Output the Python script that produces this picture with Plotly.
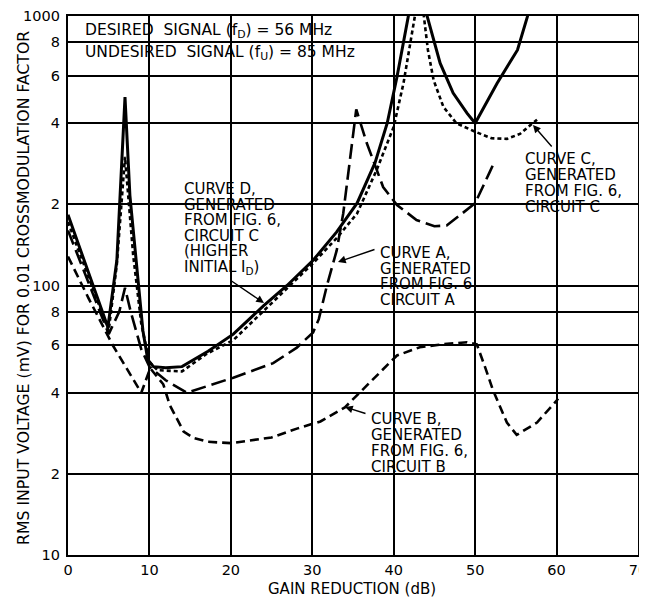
import plotly.graph_objects as go

# ---------------- data ----------------
gain_ticks = [0, 10, 20, 30, 40, 50, 60, 70]
volt_ticks = [10, 20, 40, 60, 80, 100, 200, 400, 600, 800, 1000]
volt_tick_labels = ["10", "2", "4", "6", "8", "100", "2", "4", "6", "8", "1000"]

# Curve D (solid) - Fig. 6 circuit C, higher initial I_D
curve_d_x = [0, 2.5, 4.9, 6.0, 6.4, 7.0, 7.6, 8.4, 9.2, 9.8, 10.5, 12, 14, 17.2, 20.3, 24,
             26.9, 30.1, 33, 35.5, 37.7, 39.2, 40.4, 41.8, 42.9, 44.1, 45.7, 47.3, 49, 50,
             52.7, 55.2, 56.4, 57.3]
curve_d_y = [183, 112, 70, 124, 216, 500, 216, 124, 68, 53, 50, 49.5, 50, 57, 66, 84,
             100, 124, 158, 202, 285, 400, 594, 1000, 2500, 1000, 668, 518, 436, 400,
             563, 748, 990, 1300]

# Curve C (short dash) - Fig. 6 circuit C
curve_c_x = [0, 2.5, 5.0, 6.0, 7.0, 8.0, 9.0, 10.0, 11, 14, 17, 20.3, 26.9, 30.1, 33, 35.5,
             37.9, 40, 41.2, 42.6, 43.2, 43.7, 44.2, 44.9, 46.1, 47.7, 50, 52, 53.9, 55.5,
             56.8, 57.6]
curve_c_y = [172, 108, 68, 120, 300, 130, 72, 52, 48.5, 48, 55.7, 62.7, 98, 121, 150, 185,
             268, 388, 563, 1000, 1800, 1000, 748, 578, 460, 400, 372, 352, 350, 365,
             394, 412]

# Curve A (long dash) - Fig. 6 circuit A
curve_a_x = [0, 2.5, 5.0, 6.3, 7.0, 7.7, 9.0, 10.0, 12, 14.6, 20.3, 25.2, 28.1, 30.1, 30.8,
             31.8, 33, 33.8, 34.7, 35.4, 36.7, 38.7, 40.4, 42.8, 45, 46.5, 48.2, 50, 51.8,
             52.3]
curve_a_y = [160, 103, 66, 80, 98, 80, 58, 50, 44.5, 40, 45.5, 51.5, 58.8, 67, 75,
             100, 135, 185, 300, 450, 337, 232, 199, 175, 166, 167, 183, 202, 264,
             285]

# Curve B (medium dash) - Fig. 6 circuit B
curve_b_x = [0, 2.5, 5.5, 9.0, 10.1, 11.7, 12.5, 14.2, 15.4, 17.2, 20, 25, 28.2, 31, 34,
             37, 40.4, 43.2, 46, 49, 50.2, 51.2, 52.2, 53.9, 55.1, 57.6, 60.2]
curve_b_y = [128, 90, 60, 40, 49.3, 43, 36, 28.7, 27.2, 26.3, 26, 27.3, 29.5, 31.3, 35.3,
             43.5, 55, 59, 60.5, 61.6, 60.5, 50, 40.8, 31, 27.9, 31, 38]

# ---------------- layout helpers (page pixel -> paper) ----------------
PAGE_OFF = 8                      # default body margin of the html page
W, H = 647, 597 - PAGE_OFF
PL, PT, PR, PB = 68, 16, 638, 555  # plot area in page pixels
L, T = PL - PAGE_OFF, PT - PAGE_OFF
R, B = W - (PR - PAGE_OFF), H - (PB - PAGE_OFF)


def xp(px):
    return (px - PL) / (PR - PL)


def yp(py):
    return (PB - py) / (PB - PT)


FONT = "DejaVu Sans"
FS = 15

fig = go.Figure()

styles = [
    (curve_d_x, curve_d_y, "solid", 3.0),
    (curve_c_x, curve_c_y, "4px,3px", 2.6),
    (curve_a_x, curve_a_y, "15px,6px", 2.6),
    (curve_b_x, curve_b_y, "9px,5px", 2.6),
]
for xs, ys, dash, w in styles:
    fig.add_trace(go.Scatter(x=xs, y=ys, mode="lines",
                             line=dict(color="black", width=w, dash=dash),
                             showlegend=False, hoverinfo="skip"))

# white masks behind the labels (hide grid lines, not curves)
masks = [(82, 16, 357, 69), (165, 172, 300, 281), (363, 237, 493, 309),
         (513, 133, 634, 217), (362, 408, 462, 472)]
shapes = []
for x0, y0, x1, y1 in masks:
    shapes.append(dict(type="rect", xref="paper", yref="paper",
                       x0=xp(x0), x1=xp(x1), y0=yp(y1), y1=yp(y0),
                       fillcolor="white", line=dict(width=0), layer="between"))

ann = []


def text(px, py, s, size=FS):
    ann.append(dict(x=xp(px), y=yp(py), xref="paper", yref="paper", text=s,
                    showarrow=False, xanchor="left", yanchor="middle",
                    font=dict(family=FONT, size=size, color="black")))


text(83, 31, "DESIRED  SIGNAL (f<sub>D</sub>) = 56 MHz", 15.5)
text(83, 53, "UNDESIRED  SIGNAL (f<sub>U</sub>) = 85 MHz", 15.5)

for i, s in enumerate(["CURVE D,", "GENERATED", "FROM FIG. 6,", "CIRCUIT C", "(HIGHER",
                       "INITIAL I<sub>D</sub>)"]):
    text(182, 189 + 15.6 * i, s)
for i, s in enumerate(["CURVE A,", "GENERATED", "FROM FIG. 6", "CIRCUIT A"]):
    text(378, 253 + 15.6 * i, s)
for i, s in enumerate(["CURVE C,", "GENERATED", "FROM FIG. 6,", "CIRCUIT C"]):
    text(523, 159 + 16 * i, s)
for i, s in enumerate(["CURVE B,", "GENERATED", "FROM FIG. 6,", "CIRCUIT B"]):
    text(369, 419 + 16 * i, s)


def arrow(hx, hy, tx, ty):
    ann.append(dict(x=xp(hx), y=yp(hy), xref="paper", yref="paper", text="",
                    showarrow=True, ax=tx - hx, ay=ty - hy, arrowhead=2,
                    arrowsize=1.1, arrowwidth=1.4, arrowcolor="black", standoff=0))


arrow(264, 303, 230, 280)
arrow(338, 262, 376, 249)
arrow(533, 125, 553, 148)
arrow(345, 407, 367, 414)

# axis titles
ann.append(dict(x=xp(352), y=yp(589), xref="paper", yref="paper",
                xanchor="center", yanchor="middle",
                text="GAIN REDUCTION (dB)", showarrow=False,
                font=dict(family=FONT, size=FS, color="black")))
ann.append(dict(x=xp(23), y=yp(288), xref="paper", yref="paper", textangle=-90,
                xanchor="center", yanchor="middle",
                text="RMS INPUT VOLTAGE (mV) FOR 0.01 CROSSMODULATION FACTOR",
                showarrow=False, font=dict(family=FONT, size=15.7, color="black")))

fig.update_layout(
    width=W, height=H,
    margin=dict(l=L, r=R, t=T, b=B, autoexpand=False),
    paper_bgcolor="white", plot_bgcolor="white",
    shapes=shapes, annotations=ann,
    font=dict(family=FONT, size=14, color="black"),
    xaxis=dict(range=[0, 70], tickvals=gain_ticks, showgrid=True, gridcolor="black",
               gridwidth=1.7, showline=True, linecolor="black", linewidth=2.2,
               mirror=True, ticks="", ticklabelstandoff=0, zeroline=False,
               ticklabeloverflow="allow",
               tickfont=dict(family=FONT, size=14.5), fixedrange=True),
    yaxis=dict(type="log", range=[1, 3], tickvals=volt_ticks, ticktext=volt_tick_labels,
               showgrid=True, gridcolor="black", gridwidth=1.7, showline=True,
               linecolor="black", linewidth=2.2, mirror=True, ticks="",
               ticklabelstandoff=3, zeroline=False, ticklabeloverflow="allow",
               tickfont=dict(family=FONT, size=14.5), fixedrange=True),
)

fig.write_html("out.html")
